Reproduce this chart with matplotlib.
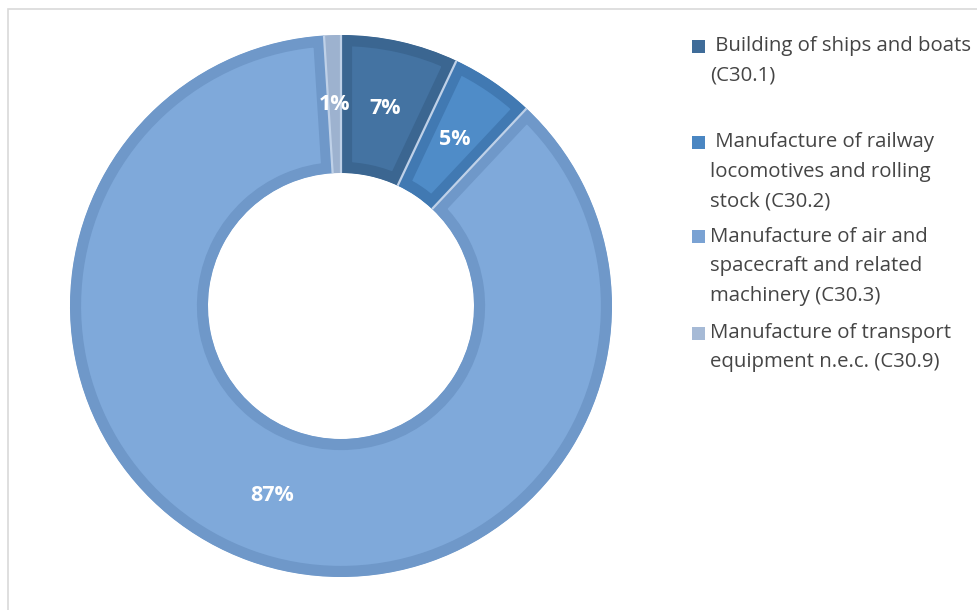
import numpy as np
import matplotlib.pyplot as plt
from matplotlib.patches import Rectangle

# share of turnover by NACE class
labels = [' Building of ships and boats\n(C30.1)',
          ' Manufacture of railway\nlocomotives and rolling\nstock (C30.2)',
          'Manufacture of air and\nspacecraft and related\nmachinery (C30.3)',
          'Manufacture of transport\nequipment n.e.c. (C30.9)']
values = [7, 5, 87, 1]
fills = ['#4473A2', '#4F8CC8', '#7FA9DA', '#A9BDD9']
edges = ['#3B6691', '#4179B2', '#6F98C9', '#9DB2CF']
marker_colors = ['#3F6C99', '#4A86C2', '#7AA2D3', '#A6BAD6']

W, H = 978, 610
fig = plt.figure(figsize=(W / 100, H / 100), dpi=100)

# outer frame
fig.add_artist(Rectangle((8 / W, -0.05), 1.2, 1 - 9 / H + 0.05, transform=fig.transFigure,
                         fill=False, edgecolor='#D9D9D9', linewidth=1.2))

cx, cy, half = 341, 306, 280
ax = fig.add_axes([(cx - half) / W, (H - cy - half) / H, 2 * half / W, 2 * half / H])
R, width = 271, 138

wedges, texts, autotexts = ax.pie(
    values, radius=R, startangle=90, counterclock=False, colors=fills,
    wedgeprops=dict(width=width, linewidth=16),
    autopct=lambda p: f'{p:.0f}%', pctdistance=0.745,
    textprops=dict(color='white', fontsize=15.5, fontweight='bold', family='Open Sans'))
# keep only the inner half of the thick edge -> bevelled look
for w, ec in zip(wedges, edges):
    w.set_edgecolor(ec)
    w.set_clip_on(True)
    w.set_clip_path(w)

# thin light seams between slices
bounds = 90 - 360 * np.cumsum([0] + values[:-1]) / sum(values)
for a in np.deg2rad(bounds):
    ax.plot([(R - width) * np.cos(a), R * np.cos(a)], [(R - width) * np.sin(a), R * np.sin(a)],
            color='#BFD1E8', linewidth=1.6, solid_capstyle='butt')

ax.set_xlim(-half, half)
ax.set_ylim(-half, half)
ax.axis('off')

# legend
first_lines = [46, 142, 237, 333]
step = 29.5
for lab, col, y0 in zip(labels, marker_colors, first_lines):
    fig.add_artist(Rectangle((692 / W, 1 - (y0 + 6.5) / H), 13 / W, 13 / H,
                             transform=fig.transFigure, facecolor=col, edgecolor='none'))
    for k, line in enumerate(lab.split('\n')):
        fig.text(710 / W, 1 - (y0 + k * step) / H, line, fontsize=14.7, color='#454545',
                 family='Open Sans', va='center', ha='left')

fig.savefig('out.png', dpi=100, facecolor='white')
